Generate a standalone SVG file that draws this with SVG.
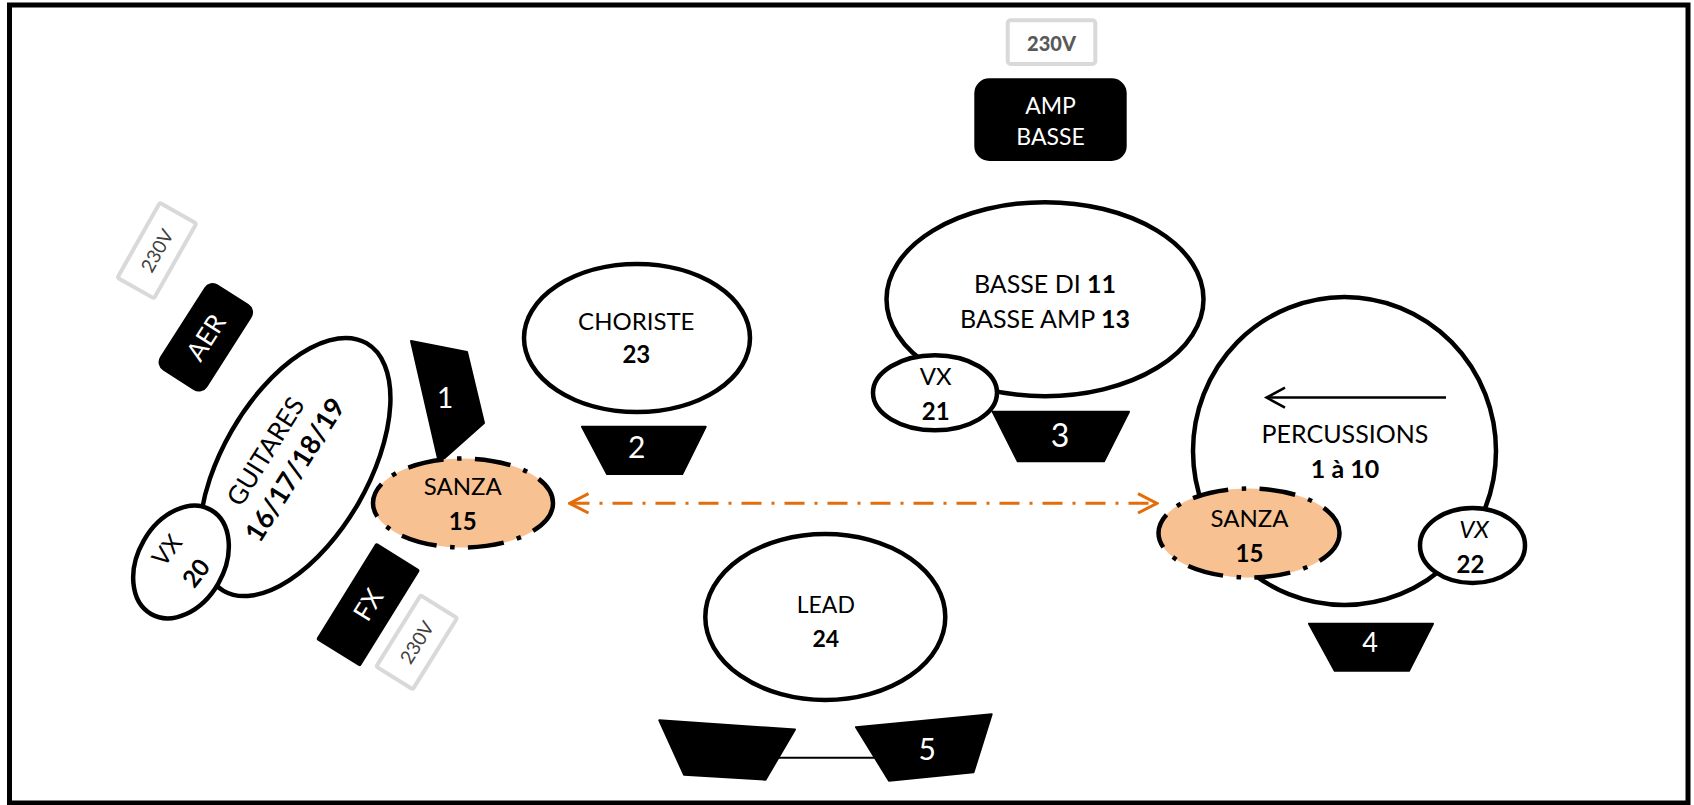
<svg xmlns="http://www.w3.org/2000/svg" width="1694" height="805" viewBox="0 0 1694 805">
<defs>
<style>
.t{font-family:Lato,"Liberation Sans",sans-serif;text-anchor:middle;fill:#000}
.b{font-weight:bold}
.w{fill:#fff}
.ell{fill:#fff;stroke:#000;stroke-width:4.5}
.sanza{fill:#F8C192;stroke:#000;stroke-width:4.5;stroke-dasharray:36 13.5 4.5 13.5}
.mon{fill:#000;stroke:#000;stroke-width:2;stroke-linejoin:round}
.box{fill:#000}
.pw{fill:#fff;stroke:#D9D9D9;stroke-width:4}
.pwt{fill:#404040}
</style>
<marker id="oa" markerUnits="userSpaceOnUse" viewBox="0 0 22 22" refX="20" refY="11" markerWidth="22" markerHeight="22" orient="auto-start-reverse">
<polyline points="1,1.3 20,11 1,20.7" fill="none" stroke="#E46C0A" stroke-width="3"/>
</marker>
</defs>
<rect x="9.5" y="5" width="1678.5" height="798" fill="#fff" stroke="#000" stroke-width="5"/>

<g id="power-top">
<rect class="pw" x="1007.7" y="20.3" width="87.6" height="43.7" rx="3"/>
<text class="t b" x="1051.5" y="50.7" font-size="20" style="fill:#595959;font-weight:900">230V</text>
</g>

<g id="amp-basse">
<rect class="box" x="974.3" y="78.3" width="152.4" height="82.7" rx="15"/>
<text class="t w" x="1050.5" y="114" font-size="23">AMP</text>
<text class="t w" x="1050.5" y="145" font-size="23">BASSE</text>
</g>

<g id="power-left-top" transform="translate(156.9,250.6) rotate(-60.5)">
<rect class="pw" x="-43" y="-21" width="86" height="42" rx="2"/>
<text class="t pwt" x="0" y="7" font-size="19">230V</text>
</g>

<g id="aer" transform="translate(205.8,337.3) rotate(-57.4)">
<rect class="box" x="-51" y="-28" width="102" height="56" rx="10"/>
<text class="t w" x="0" y="9.3" font-size="26">AER</text>
</g>

<g id="guitares">
<ellipse class="ell" cx="295" cy="467" rx="143" ry="73" transform="rotate(-60 295 467)"/>
<g transform="translate(280,460.5) rotate(-58)">
<text class="t" x="0" y="-8" font-size="26">GUITARES</text>
<text class="t b" x="0" y="27" font-size="27">16/17/18/19</text>
</g>
</g>

<g id="vx-20">
<ellipse class="ell" cx="181" cy="562" rx="60" ry="43" transform="rotate(-60 181 562)"/>
<g transform="translate(181.5,561.7) rotate(-52)">
<text class="t" x="0" y="-10" font-size="24">VX</text>
<text class="t b" x="0" y="27" font-size="24">20</text>
</g>
</g>

<g id="fx" transform="translate(368.1,604.7) rotate(-58.2)">
<rect class="box" x="-57" y="-26" width="114" height="52" rx="2"/>
<text class="t w" x="0" y="9.3" font-size="26">FX</text>
</g>

<g id="power-left-bottom" transform="translate(416.7,642.3) rotate(-58.1)">
<rect class="pw" x="-42" y="-21.5" width="84" height="43" rx="2"/>
<text class="t pwt" x="0" y="7" font-size="19">230V</text>
</g>

<g id="monitor-1">
<polygon class="mon" points="411,341 467,352 484,423 439,463"/>
<text class="t w" x="445" y="408.3" font-size="28">1</text>
</g>

<g id="sanza-left">
<ellipse class="sanza" cx="463" cy="503" rx="90" ry="44.5"/>
<text class="t" x="462.7" y="495" font-size="24">SANZA</text>
<text class="t b" x="462.7" y="530" font-size="24">15</text>
</g>

<g id="choriste">
<ellipse class="ell" cx="637" cy="338" rx="113" ry="74"/>
<text class="t" x="636.3" y="330" font-size="24">CHORISTE</text>
<text class="t b" x="636.3" y="363" font-size="24">23</text>
</g>

<g id="monitor-2">
<polygon class="mon" points="582,426.7 705.7,426.7 682.3,474 607,474"/>
<text class="t w" x="636.7" y="458.3" font-size="30">2</text>
</g>

<g id="basse">
<ellipse class="ell" cx="1045" cy="299.2" rx="158.5" ry="97"/>
<text class="t" x="1045" y="293" font-size="25">BASSE DI <tspan class="b">11</tspan></text>
<text class="t" x="1045" y="328" font-size="25">BASSE AMP <tspan class="b">13</tspan></text>
</g>

<g id="monitor-3">
<polygon class="mon" points="992.7,411.7 1129,411.7 1104,461.3 1017.7,461.3"/>
<text class="t w" x="1060" y="447" font-size="32">3</text>
</g>

<g id="vx-21">
<ellipse class="ell" cx="935" cy="392.8" rx="62" ry="37.5"/>
<text class="t" x="935.7" y="385" font-size="24">VX</text>
<text class="t b" x="935.7" y="420" font-size="24">21</text>
</g>

<g id="percussions">
<ellipse class="ell" cx="1344.5" cy="451" rx="151.5" ry="154"/>
<text class="t" x="1345" y="443" font-size="25">PERCUSSIONS</text>
<text class="t b" x="1345" y="478" font-size="25">1 à 10</text>
</g>

<g id="sanza-right">
<ellipse class="sanza" cx="1249" cy="533" rx="90.5" ry="44.5"/>
<text class="t" x="1249.5" y="526.5" font-size="24">SANZA</text>
<text class="t b" x="1249.5" y="561.5" font-size="24">15</text>
</g>

<g id="vx-22">
<ellipse class="ell" cx="1472.5" cy="545.5" rx="52.5" ry="37.5"/>
<text class="t" x="1474" y="538" font-size="24" font-style="italic">VX</text>
<text class="t b" x="1470.5" y="573" font-size="24">22</text>
</g>

<g id="monitor-4">
<polygon class="mon" points="1309,623.7 1433,623.7 1409,670.7 1334.7,670.7"/>
<text class="t w" x="1370" y="651.7" font-size="27">4</text>
</g>

<g id="lead">
<ellipse class="ell" cx="825.3" cy="617" rx="120" ry="83"/>
<text class="t" x="825.8" y="613" font-size="23">LEAD</text>
<text class="t b" x="825.8" y="646.5" font-size="23">24</text>
</g>

<g id="monitor-5">
<polygon class="mon" points="659.3,720.3 795,729.5 765.5,779.7 684,774.7"/>
<polygon class="mon" points="856,727.2 991.7,714.3 973.5,772.3 889,780.7"/>
<text class="t w" x="927.3" y="760" font-size="30">5</text>
</g>

<g id="connectors">
<line x1="569.5" y1="503.3" x2="1157" y2="503.3" stroke="#E46C0A" stroke-width="3" stroke-dasharray="20 10 3 10" marker-start="url(#oa)" marker-end="url(#oa)"/>
<line x1="1446" y1="397.6" x2="1268" y2="397.6" stroke="#000" stroke-width="2.5"/>
<polyline points="1285,387.7 1266.5,397.6 1285,407.7" fill="none" stroke="#000" stroke-width="2.5"/>
<line x1="778" y1="757.7" x2="874" y2="757.7" stroke="#000" stroke-width="2"/>
</g>
</svg>
